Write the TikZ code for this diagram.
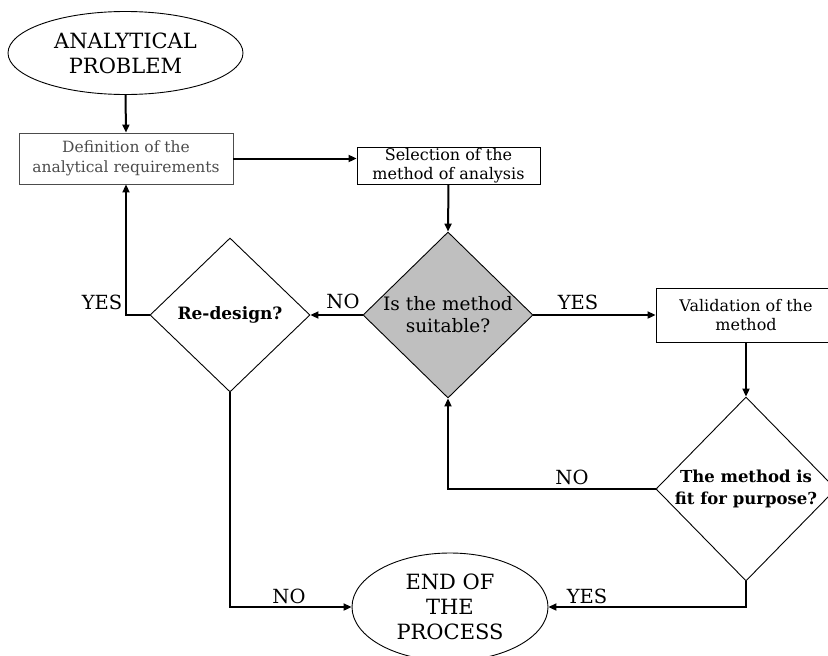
\documentclass[tikz,border=0pt]{standalone}
\usepackage{fontspec}
\setmainfont{DejaVu Serif}
\usetikzlibrary{shapes.geometric,arrows.meta}

\begin{document}
\begin{tikzpicture}[x=1pt,y=-1pt,
  outline/.style={draw=black,line width=0.9pt},
  bigtext/.style={font=\fontsize{21}{25}\selectfont,align=center},
  boxtext/.style={font=\fontsize{16}{19.5}\selectfont,align=center},
  terminal/.style={outline,ellipse,inner sep=0pt,bigtext},
  procbox/.style={outline,rectangle,inner sep=0pt,boxtext},
  decision/.style={outline,diamond,inner sep=0pt,align=center},
  flow/.style={line width=2pt,-{Triangle[length=8pt,width=7pt]}},
  answer/.style={font=\fontsize{19.5}{21}\selectfont,inner sep=0pt}
]
\useasboundingbox (0,0) rectangle (828,656);

% nodes of the chart
\node[terminal,minimum width=235pt,minimum height=83pt] (start) at (125.5,53)
  {ANALYTICAL\\PROBLEM};
\node[procbox,draw=black!70,text=black!70,minimum width=214pt,minimum height=51pt,
  font=\fontsize{15.5}{20}\selectfont]
  (def) at (126,158.5) {Definition of the\\analytical requirements};
\node[procbox,minimum width=183pt,minimum height=37pt] (sel) at (448.5,165.5)
  {Selection of the\\method of analysis};
\node[decision,fill=black!25,minimum width=170pt,minimum height=160pt,
  font=\fontsize{18.5}{22}\selectfont] (suit) at (448,315)
  {Is the method\\suitable?};
\node[decision,minimum width=160pt,minimum height=154pt,
  font=\bfseries\fontsize{17}{20}\selectfont] (redesign) at (230,315)
  {Re-design?};
\node[procbox,minimum width=180pt,minimum height=54pt] (val) at (746,315)
  {Validation of the\\method};
\node[decision,minimum width=178pt,minimum height=184pt,
  font=\bfseries\fontsize{16.5}{22}\selectfont] (fit) at (746,489)
  {The method is\\fit for purpose?};
\node[terminal,minimum width=196pt,minimum height=108pt] (end) at (450,607)
  {END OF\\THE\\PROCESS};

% connectors
\draw[flow] (start.south) -- (def.north);
\draw[flow] (def.east) -- (def.east -| sel.west);
\draw[flow] (sel.south) -- (suit.north);
\draw[flow] (suit.west) -- (redesign.east);
\draw[flow] (redesign.west) -| (def.south);
\draw[flow] (suit.east) -- (val.west);
\draw[flow] (val.south) -- (fit.north);
\draw[flow] (fit.west) -| (suit.south);
\draw[flow] (fit.south) |- (end.east);
\draw[flow] (redesign.south) |- (end.west);

% answer labels
\node[answer] (l1) at (343,301) {NO};
\node[answer] (l2) at (102,302) {YES};
\node[answer] (l3) at (578,302) {YES};
\node[answer] (l4) at (572,477) {NO};
\node[answer] (l5) at (289,596) {NO};
\node[answer] (l6) at (587,596) {YES};
\end{tikzpicture}
\end{document}
